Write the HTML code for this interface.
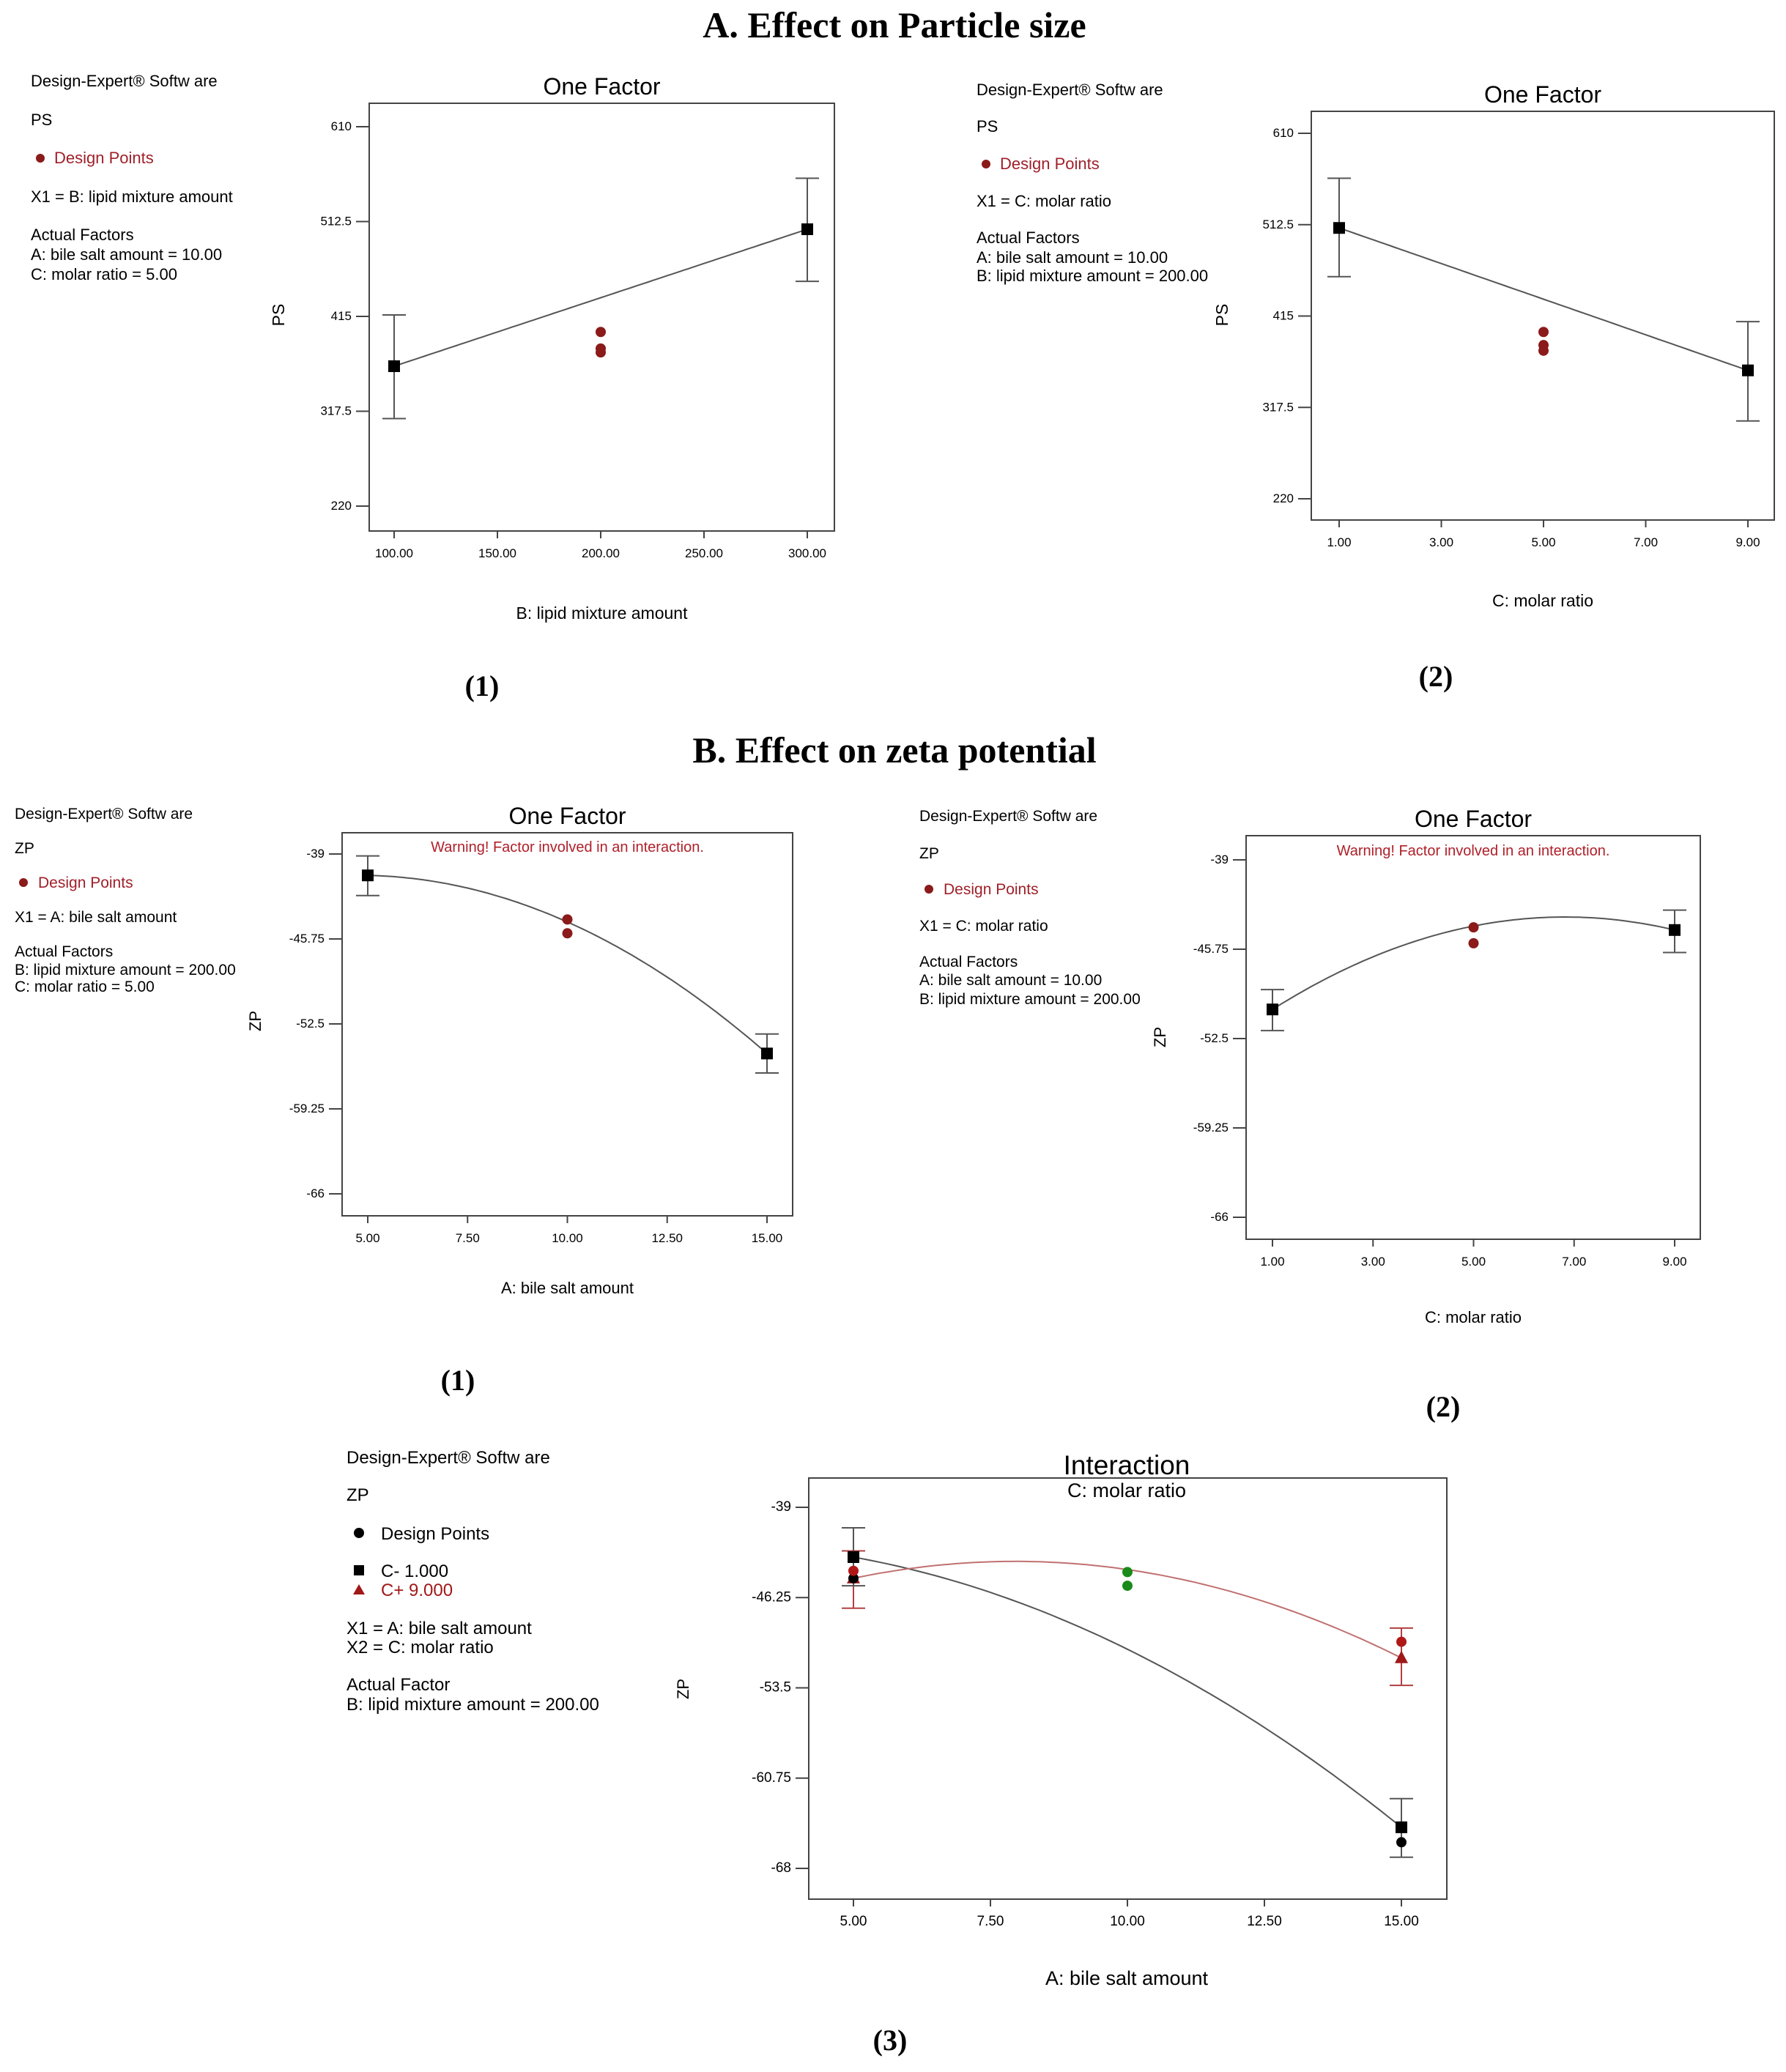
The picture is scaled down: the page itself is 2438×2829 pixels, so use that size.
<!DOCTYPE html>
<html><head><meta charset="utf-8"><title>Effect charts</title>
<style>
html,body{margin:0;padding:0;background:#fff;}
svg{display:block;}
.h{font-family:"Liberation Serif",serif;font-weight:bold;}
.s{font-family:"Liberation Sans",sans-serif;}
</style></head>
<body>
<svg id="fig" width="2438" height="2829" viewBox="0 0 2438 2829" xmlns="http://www.w3.org/2000/svg">
<rect width="2438" height="2829" fill="#fff"/>
<text class="h" x="1221" y="51" font-size="50" text-anchor="middle">A. Effect on Particle size</text>
<text class="h" x="1221" y="1041" font-size="50" text-anchor="middle">B. Effect on zeta potential</text>
<text class="h" x="658" y="950" font-size="40" text-anchor="middle">(1)</text>
<text class="h" x="1960" y="937" font-size="40" text-anchor="middle">(2)</text>
<text class="h" x="625" y="1898" font-size="40" text-anchor="middle">(1)</text>
<text class="h" x="1970" y="1934" font-size="40" text-anchor="middle">(2)</text>
<text class="h" x="1215" y="2799" font-size="40" text-anchor="middle">(3)</text>

<g class="s" font-size="22">
<text x="42" y="118">Design-Expert® Softw are</text>
<text x="42" y="171">PS</text>
<circle cx="55" cy="216" r="6" fill="#8b1a1a"/>
<text x="74" y="223" fill="#a0202a">Design Points</text>
<text x="42" y="276">X1 = B: lipid mixture amount</text>
<text x="42" y="328">Actual Factors</text>
<text x="42" y="355">A: bile salt amount = 10.00</text>
<text x="42" y="382">C: molar ratio = 5.00</text>
</g>
<g class="s" font-size="22">
<text x="1333" y="130">Design-Expert® Softw are</text>
<text x="1333" y="180">PS</text>
<circle cx="1346" cy="224" r="6" fill="#8b1a1a"/>
<text x="1365" y="231" fill="#a0202a">Design Points</text>
<text x="1333" y="282">X1 = C: molar ratio</text>
<text x="1333" y="332">Actual Factors</text>
<text x="1333" y="359">A: bile salt amount = 10.00</text>
<text x="1333" y="384">B: lipid mixture amount = 200.00</text>
</g>
<g class="s" font-size="21">
<text x="20" y="1118">Design-Expert® Softw are</text>
<text x="20" y="1165">ZP</text>
<circle cx="32" cy="1205" r="6" fill="#8b1a1a"/>
<text x="52" y="1212" fill="#a0202a">Design Points</text>
<text x="20" y="1259">X1 = A: bile salt amount</text>
<text x="20" y="1306">Actual Factors</text>
<text x="20" y="1331">B: lipid mixture amount = 200.00</text>
<text x="20" y="1354">C: molar ratio = 5.00</text>
</g>
<g class="s" font-size="21">
<text x="1255" y="1121">Design-Expert® Softw are</text>
<text x="1255" y="1172">ZP</text>
<circle cx="1268" cy="1214" r="6" fill="#8b1a1a"/>
<text x="1288" y="1221" fill="#a0202a">Design Points</text>
<text x="1255" y="1271">X1 = C: molar ratio</text>
<text x="1255" y="1320">Actual Factors</text>
<text x="1255" y="1345">A: bile salt amount = 10.00</text>
<text x="1255" y="1371">B: lipid mixture amount = 200.00</text>
</g>
<g class="s" font-size="24">
<text x="473" y="1998">Design-Expert® Softw are</text>
<text x="473" y="2049">ZP</text>
<circle cx="490" cy="2093" r="7" fill="#000"/>
<text x="520" y="2102">Design Points</text>
<rect x="483" y="2137" width="14" height="14" fill="#000"/>
<text x="520" y="2153">C- 1.000</text>
<polygon points="490,2163 498,2177 482,2177" fill="#a01818"/>
<text x="520" y="2179" fill="#a01818">C+ 9.000</text>
<text x="473" y="2231">X1 = A: bile salt amount</text>
<text x="473" y="2257">X2 = C: molar ratio</text>
<text x="473" y="2308">Actual Factor</text>
<text x="473" y="2335">B: lipid mixture amount = 200.00</text>
</g>
<g id="charts"></g>
</svg>
<script>
// ---- Chart A1 data ----
const a1Levels=[100,300];
const a1Pred=[363.8,504.6];
const a1Low=[310,451];
const a1High=[416.5,557];
const a1PtsX=[200,200,200];
const a1PtsY=[399,382,378];
const a1YTicks=[220,317.5,415,512.5,610];
const a1YLabels=["220","317.5","415","512.5","610"];
const a1XTicks=[100,150,200,250,300];
const a1XLabels=["100.00","150.00","200.00","250.00","300.00"];
// ---- Chart A2 data ----
const a2Levels=[1,9];
const a2Pred=[509,357];
const a2Low=[457,303];
const a2High=[562,409];
const a2PtsX=[5,5,5];
const a2PtsY=[398,384,378];
const a2YTicks=[220,317.5,415,512.5,610];
const a2YLabels=["220","317.5","415","512.5","610"];
const a2XTicks=[1,3,5,7,9];
const a2XLabels=["1.00","3.00","5.00","7.00","9.00"];
// ---- Chart B1 data ----
const b1Levels=[5,10,15];
const b1Pred=[-40.7,-44.4,-54.85];
const b1Low=[-42.3,null,-56.4];
const b1High=[-39.15,null,-53.3];
const b1PtsX=[10,10];
const b1PtsY=[-44.2,-45.3];
const zTicks=[-66,-59.25,-52.5,-45.75,-39];
const zLabels=["-66","-59.25","-52.5","-45.75","-39"];
const b1XTicks=[5,7.5,10,12.5,15];
const b1XLabels=["5.00","7.50","10.00","12.50","15.00"];
// ---- Chart B2 data ----
const b2Levels=[1,5,9];
const b2Pred=[-50.3,-44.0,-44.3];
const b2Low=[-51.9,null,-46.0];
const b2High=[-48.8,null,-42.8];
const b2PtsX=[5,5];
const b2PtsY=[-44.1,-45.3];
const b2XTicks=[1,3,5,7,9];
const b2XLabels=["1.00","3.00","5.00","7.00","9.00"];
// ---- Interaction chart data ----
const iLevels=[5,10,15];
const iLowPred=[-43.0,-50.4,-64.7];
const iLowLow=[-45.3,null,-67.1];
const iLowHigh=[-40.65,null,-62.4];
const iHighPred=[-44.7,-44.0,-51.1];
const iHighLow=[-47.1,null,-53.3];
const iHighHigh=[-42.5,null,-48.7];
const iBlackPtsX=[5,15];
const iBlackPtsY=[-44.7,-65.9];
const iRedPtsX=[5,15];
const iRedPtsY=[-44.1,-49.8];
const iGreenPtsX=[10,10];
const iGreenPtsY=[-44.2,-45.3];
const iYTicks=[-68,-60.75,-53.5,-46.25,-39];
const iYLabels=["-68","-60.75","-53.5","-46.25","-39"];
const iXTicks=[5,7.5,10,12.5,15];
const iXLabels=["5.00","7.50","10.00","12.50","15.00"];

const NS="http://www.w3.org/2000/svg";
const root=document.getElementById('charts');
function mk(tag,attrs,parent){const e=document.createElementNS(NS,tag);for(const k in attrs)e.setAttribute(k,attrs[k]);(parent||root).appendChild(e);return e;}
function lin(d0,d1,r0,r1){return v=>r0+(v-d0)*(r1-r0)/(d1-d0);}
function quad(xs,ys,x){
  if(xs.length===2) return ys[0]+(x-xs[0])*(ys[1]-ys[0])/(xs[1]-xs[0]);
  let s=0;for(let i=0;i<3;i++){let t=ys[i];for(let j=0;j<3;j++)if(j!==i)t*=(x-xs[j])/(xs[i]-xs[j]);s+=t;}return s;}

function frame(g,box,sx,sy,yT,yL,xT,xL,fs){
  const r=mk('rect',{x:box.l,y:box.t,width:box.r-box.l,height:box.b-box.t,fill:'none',stroke:'#444','stroke-width':2},g);
  
  
  yT.forEach((v,i)=>{const y=sy(v);
    const t=mk('line',{x1:box.l-18,x2:box.l,y1:y,y2:y,stroke:'#444','stroke-width':2},g);
    
    
    const tx=mk('text',{x:box.l-24,y:y+5,'font-size':fs,'text-anchor':'end','font-family':'Liberation Sans, sans-serif'},g);
    tx.textContent=yL[i];
    
    });
  xT.forEach((v,i)=>{const x=sx(v);
    const t=mk('line',{x1:x,x2:x,y1:box.b,y2:box.b+10,stroke:'#444','stroke-width':2},g);
    
    
    const tx=mk('text',{x:x,y:box.b+36,'font-size':fs,'text-anchor':'middle','font-family':'Liberation Sans, sans-serif'},g);
    tx.textContent=xL[i];
    
    });
}
function curve(g,sx,sy,xs,ys,color){
  let d='';const n=80;
  for(let k=0;k<=n;k++){const x=xs[0]+(xs[xs.length-1]-xs[0])*k/n;d+=(k?'L':'M')+sx(x).toFixed(1)+','+sy(quad(xs,ys,x)).toFixed(1);}
  const p=mk('path',{d:d,fill:'none',stroke:color,'stroke-width':2},g);
  
  
}
function errbars(g,sx,sy,xs,lo,hi,color){
  xs.forEach((x,i)=>{if(lo[i]===null)return;const X=sx(x),y1=sy(lo[i]),y2=sy(hi[i]);
    const p=mk('path',{d:`M${X-16},${y1}H${X+16}M${X-16},${y2}H${X+16}M${X},${y1}V${y2}`,stroke:color,'stroke-width':2,fill:'none'},g);
    
    });
}
function squares(g,sx,sy,xs,ys,color){
  xs.forEach((x,i)=>{if(i===1&&xs.length===3)return;
    const r=mk('rect',{x:sx(x)-8,y:sy(ys[i])-8,width:16,height:16,fill:color},g);
    
    });
}
function dots(g,sx,sy,xs,ys,color){
  xs.forEach((x,i)=>{const c=mk('circle',{cx:sx(x),cy:sy(ys[i]),r:7,fill:color},g);
    
    });
}
function label(g,x,y,txt,fs,anchor,color,name,rot){
  const t=mk('text',{x:x,y:y,'font-size':fs,'text-anchor':anchor||'middle','font-family':'Liberation Sans, sans-serif',fill:color||'#000'},g);
  if(rot)t.setAttribute('transform',`rotate(-90 ${x} ${y})`);
  t.textContent=txt;
  
  
}
function oneFactor(name,box,xd,xr,yd,yr,yT,yL,xT,xL,lev,pred,lo,hi,px,py,title,warnY,xlab,xlabY,ylab,ylabX,ylabY,fs){
  const g=mk('g',{});
  
  
  const sx=lin(xd[0],xd[1],xr[0],xr[1]),sy=lin(yd[0],yd[1],yr[0],yr[1]);
  frame(g,box,sx,sy,yT,yL,xT,xL,17);
  const cx=(box.l+box.r)/2;
  label(g,cx,box.t-12,'One Factor',32,'middle','#000','chart-title');
  if(warnY)label(g,cx,warnY,'Warning! Factor involved in an interaction.',20,'middle','#b0202a','warning-text');
  label(g,cx,xlabY,xlab,fs,'middle','#000','x-axis-title');
  label(g,ylabX,ylabY,ylab,fs,'middle','#000','y-axis-title',true);
  curve(g,sx,sy,lev,pred,'#555');
  errbars(g,sx,sy,lev,lo,hi,'#555');
  squares(g,sx,sy,lev,pred,'#000');
  dots(g,sx,sy,px,py,'#8b1a1a');
}
oneFactor('chart-a1',{l:504,r:1139,t:141,b:725},[100,300],[538,1102],[220,610],[691,173],a1YTicks,a1YLabels,a1XTicks,a1XLabels,a1Levels,a1Pred,a1Low,a1High,a1PtsX,a1PtsY,'',null,'B: lipid mixture amount',845,'PS',388,430,23);
oneFactor('chart-a2',{l:1790,r:2422,t:152,b:710},[1,9],[1828,2386],[220,610],[681,182],a2YTicks,a2YLabels,a2XTicks,a2XLabels,a2Levels,a2Pred,a2Low,a2High,a2PtsX,a2PtsY,'',null,'C: molar ratio',828,'PS',1676,430,23);
oneFactor('chart-b1',{l:467,r:1082,t:1137,b:1660},[5,15],[502,1047],[-66,-39],[1630,1166],zTicks,zLabels,b1XTicks,b1XLabels,b1Levels,b1Pred,b1Low,b1High,b1PtsX,b1PtsY,'',1163,'A: bile salt amount',1766,'ZP',356,1394,22);
oneFactor('chart-b2',{l:1701,r:2321,t:1141,b:1692},[1,9],[1737,2286],[-66,-39],[1662,1174],zTicks,zLabels,b2XTicks,b2XLabels,b2Levels,b2Pred,b2Low,b2High,b2PtsX,b2PtsY,'',1168,'C: molar ratio',1806,'ZP',1591,1416,22);

(function(){
  const g=mk('g',{});
  
  
  const box={l:1104,r:1975,t:2018,b:2593};
  const sx=lin(5,15,1165,1913),sy=lin(-68,-39,2551,2058);
  frame(g,box,sx,sy,iYTicks,iYLabels,iXTicks,iXLabels,19);
  label(g,1538,2013,'Interaction',37,'middle','#000','chart-title');
  label(g,1538,2044,'C: molar ratio',27,'middle','#000','chart-subtitle');
  label(g,1538,2710,'A: bile salt amount',27,'middle','#000','x-axis-title');
  label(g,940,2306,'ZP',22,'middle','#000','y-axis-title',true);
  curve(g,sx,sy,iLevels,iLowPred,'#555');
  curve(g,sx,sy,iLevels,iHighPred,'#c07070');
  errbars(g,sx,sy,iLevels,iHighLow,iHighHigh,'#b04040');
  errbars(g,sx,sy,iLevels,iLowLow,iLowHigh,'#555');
  squares(g,sx,sy,iLevels,iLowPred,'#000');
  iLevels.forEach((x,i)=>{if(i===1)return;const X=sx(x),Y=sy(iHighPred[i]);
    const t=mk('polygon',{points:`${X},${Y-10} ${X+9},${Y+7} ${X-9},${Y+7}`,fill:'#a01818'},g);
    
    });
  dots(g,sx,sy,iBlackPtsX,iBlackPtsY,'#000');
  dots(g,sx,sy,iRedPtsX,iRedPtsY,'#b01818');
  dots(g,sx,sy,iGreenPtsX,iGreenPtsY,'#1a8a1a');
})();
</script>
</body></html>
